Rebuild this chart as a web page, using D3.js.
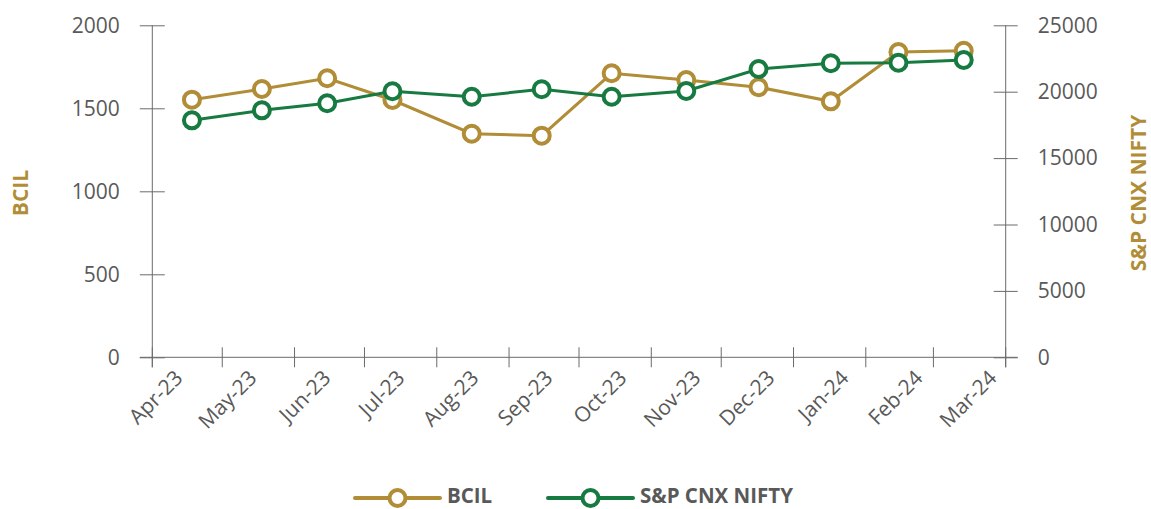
<!DOCTYPE html>
<html>
<head>
<meta charset="utf-8">
<script src="https://cdn.jsdelivr.net/npm/d3@7"></script>
<style>
  html, body { margin: 0; padding: 0; background: #fff; }
  svg { display: block; }
  text { font-family: "Open Sans", "DejaVu Sans", sans-serif; }
</style>
</head>
<body>
<svg id="chart" width="1151" height="509"></svg>
<script>
// ---- data ----
const months = ["Apr-23","May-23","Jun-23","Jul-23","Aug-23","Sep-23","Oct-23","Nov-23","Dec-23","Jan-24","Feb-24","Mar-24"];
const dates = ["2023-04-18","2023-05-18","2023-06-15","2023-07-13","2023-08-16","2023-09-15","2023-10-15","2023-11-16","2023-12-17","2024-01-17","2024-02-15","2024-03-14"];
const bcil = [1552, 1616, 1681, 1550, 1347, 1335, 1711, 1670, 1627, 1542, 1839, 1847];
const nifty = [17846, 18599, 19127, 20030, 19623, 20181, 19623, 20053, 21709, 22139, 22184, 22387];
const leftTicks = [0, 500, 1000, 1500, 2000];
const rightTicks = [0, 5000, 10000, 15000, 20000, 25000];
const seriesNames = ["BCIL", "S&P CNX NIFTY"];

// ---- styles ----
const GOLD = "#B08D36";
const GREEN = "#177A41";
const AXIS = "#6b6b6b";
const TEXT = "#595959";

const svg = d3.select("#chart");
const parse = d3.timeParse("%Y-%m-%d");
const pts = dates.map(parse);

const x0 = new Date(2023, 3, 1), x1 = new Date(2024, 3, 1);
const x = d3.scaleTime().domain([x0, x1]).range([152.3, 1005.7]);
const xl = d3.scalePoint().domain(months).range([184, 998]);
const yL = d3.scaleLinear().domain([0, 2000]).range([357.3, 25.3]);
const yR = d3.scaleLinear().domain([0, 25000]).range([357.3, 25.3]);

// left axis
const gL = svg.append("g").attr("transform", `translate(${x.range()[0]},0)`)
  .call(d3.axisLeft(yL).tickValues(leftTicks).tickSize(12.5).tickPadding(20).tickFormat(d3.format("d")));
gL.select(".domain").remove();
gL.selectAll(".tick line").attr("x1", 12.5).attr("stroke", AXIS);
gL.append("line").attr("x1", 0).attr("x2", 0).attr("y1", yL(2000)).attr("y2", yL(0) + 10).attr("stroke", AXIS);
gL.selectAll(".tick text").attr("fill", TEXT).style("font-size", "21px").attr("font-family", null);

// right axis
const gR = svg.append("g").attr("transform", `translate(${x.range()[1]},0)`)
  .call(d3.axisRight(yR).tickValues(rightTicks).tickSize(12).tickPadding(20).tickFormat(d3.format("d")));
gR.select(".domain").remove();
gR.selectAll(".tick line").attr("x1", -12).attr("stroke", AXIS);
gR.append("line").attr("x1", 0).attr("x2", 0).attr("y1", yR(25000)).attr("y2", yR(0) + 10).attr("stroke", AXIS);
gR.selectAll(".tick text").attr("fill", TEXT).style("font-size", "21px").attr("font-family", null);

// bottom axis
const gB = svg.append("g").attr("transform", `translate(0,${yL(0)})`);
gB.append("line").attr("x1", x.range()[0] - 12.5).attr("x2", x.range()[1] + 12).attr("y1", 0).attr("y2", 0).attr("stroke", AXIS);
gB.selectAll("line.tk").data(d3.timeMonth.range(x0, new Date(2024, 3, 2)))
  .join("line").attr("class", "tk")
  .attr("x1", d => x(d)).attr("x2", d => x(d)).attr("y1", -10).attr("y2", 10).attr("stroke", AXIS);
gB.selectAll("text.ml").data(months).join("text").attr("class", "ml")
  .attr("transform", d => `translate(${xl(d)},22) rotate(-45)`)
  .attr("text-anchor", "end").attr("fill", TEXT).style("font-size", "21px").text(d => d);

// lines
const lineL = d3.line().x((d, i) => x(pts[i])).y(d => yL(d));
const lineR = d3.line().x((d, i) => x(pts[i])).y(d => yR(d));

svg.append("path").datum(bcil).attr("d", lineL).attr("fill", "none").attr("stroke", GOLD).attr("stroke-width", 3);
svg.append("path").datum(nifty).attr("d", lineR).attr("fill", "none").attr("stroke", GREEN).attr("stroke-width", 3);

svg.append("g").selectAll("circle").data(bcil).join("circle")
  .attr("cx", (d, i) => x(pts[i])).attr("cy", d => yL(d)).attr("r", 8)
  .attr("fill", "#fff").attr("stroke", GOLD).attr("stroke-width", 4);
svg.append("g").selectAll("circle").data(nifty).join("circle")
  .attr("cx", (d, i) => x(pts[i])).attr("cy", d => yR(d)).attr("r", 8)
  .attr("fill", "#fff").attr("stroke", GREEN).attr("stroke-width", 4);

// axis titles
svg.append("text").attr("transform", "translate(28,193) rotate(-90)").attr("text-anchor", "middle")
  .attr("fill", GOLD).style("font-size", "21px").style("font-weight", "bold").text("BCIL");
svg.append("text").attr("transform", "translate(1146,193) rotate(-90)").attr("text-anchor", "middle")
  .attr("fill", GOLD).style("font-size", "21px").style("font-weight", "bold").text("S&P CNX NIFTY");

// legend
const legend = [
  { name: seriesNames[0], color: GOLD, x: 355 },
  { name: seriesNames[1], color: GREEN, x: 548 }
];
const lg = svg.append("g").attr("transform", "translate(0,498)");
legend.forEach(l => {
  lg.append("line").attr("x1", l.x).attr("x2", l.x + 85).attr("y1", 0).attr("y2", 0)
    .attr("stroke", l.color).attr("stroke-width", 4).attr("stroke-linecap", "round");
  lg.append("circle").attr("cx", l.x + 42.5).attr("cy", 0).attr("r", 8)
    .attr("fill", "#fff").attr("stroke", l.color).attr("stroke-width", 4);
  lg.append("text").attr("x", l.x + 92).attr("y", 5).attr("fill", TEXT)
    .style("font-size", "20.5px").style("font-weight", "bold").text(l.name);
});
</script>
</body>
</html>
